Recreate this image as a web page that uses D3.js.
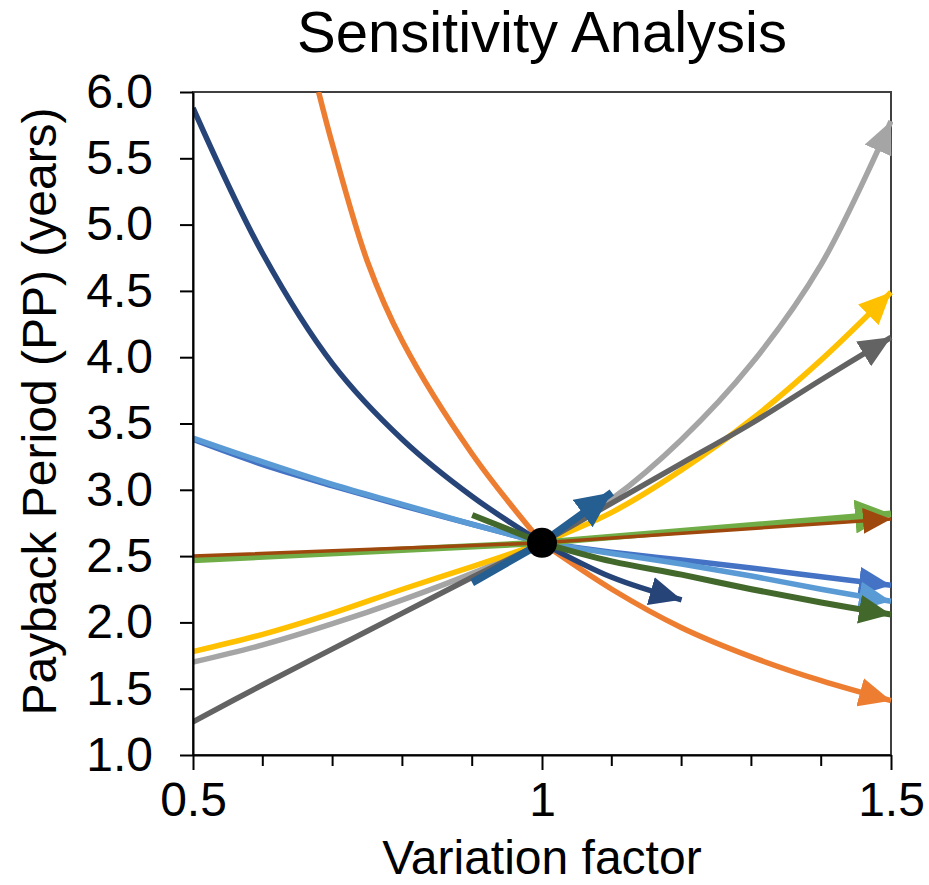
<!DOCTYPE html>
<html>
<head>
<meta charset="utf-8">
<script src="https://cdn.jsdelivr.net/npm/d3@7"></script>
<style>
  body { margin: 0; background: #fff; }
  svg { font-family: "Liberation Sans", Arial, sans-serif; }
</style>
</head>
<body>
<div class="canvas"></div>
<script>
// values
const xFull = [0.5, 0.6, 0.7, 0.8, 0.9, 1.0, 1.1, 1.2, 1.3, 1.4, 1.5];

const blueVals = [3.38, 3.19, 3.03, 2.88, 2.74, 2.6, 2.53, 2.47, 2.41, 2.345, 2.28];
const orangeX = [0.68, 0.7, 0.75, 0.8, 0.9, 1.0, 1.1, 1.2, 1.3, 1.4, 1.5];
const orangeVals = [6.0, 5.6, 4.72, 4.12, 3.27, 2.6, 2.25, 1.96, 1.74, 1.56, 1.41];
const grayVals = [1.7, 1.83, 1.99, 2.17, 2.37, 2.6, 2.93, 3.38, 3.95, 4.7, 5.78];
const yellowVals = [1.78, 1.91, 2.07, 2.25, 2.42, 2.6, 2.83, 3.15, 3.53, 3.98, 4.49];
const lightBlueVals = [3.39, 3.21, 3.04, 2.89, 2.74, 2.6, 2.52, 2.44, 2.35, 2.25, 2.16];
const greenX = [0.5, 1.0, 1.5];
const greenVals = [2.47, 2.6, 2.82];
const navyX = [0.5, 0.6, 0.7, 0.8, 0.9, 1.0, 1.1, 1.2];
const navyVals = [5.88, 4.78, 3.95, 3.38, 2.95, 2.6, 2.34, 2.17];
const brownX = [0.5, 1.0, 1.5];
const brownVals = [2.5, 2.6, 2.78];
const darkGrayVals = [1.25, 1.53, 1.8, 2.07, 2.34, 2.6, 2.9, 3.2, 3.5, 3.83, 4.15];
const midBlueX = [0.9, 1.0, 1.1];
const midBlueVals = [2.3, 2.6, 2.98];
const darkGreenX = [0.9, 1.0, 1.1, 1.2, 1.3, 1.4, 1.5];
const darkGreenVals = [2.81, 2.6, 2.46, 2.36, 2.25, 2.15, 2.06];

const basePoint = { x: 1.0, y: 2.6 };

const yTicks = [1.0, 1.5, 2.0, 2.5, 3.0, 3.5, 4.0, 4.5, 5.0, 5.5, 6.0];
const xTicks = [0.5, 1, 1.5];
const xMinorTicks = [0.6, 0.7, 0.8, 0.9, 1.1, 1.2, 1.3, 1.4];

const series = [
  { id: "blue", color: "#4472C4", width: 5.5, xs: xFull, ys: blueVals },
  { id: "orange", color: "#ED7D31", width: 5.5, xs: orangeX, ys: orangeVals },
  { id: "gray", color: "#A5A5A5", width: 5.5, xs: xFull, ys: grayVals },
  { id: "yellow", color: "#FFC000", width: 5.5, xs: xFull, ys: yellowVals },
  { id: "lightblue", color: "#5B9BD5", width: 5.5, xs: xFull, ys: lightBlueVals },
  { id: "green", color: "#70AD47", width: 6.5, xs: greenX, ys: greenVals },
  { id: "navy", color: "#264478", width: 5.5, xs: navyX, ys: navyVals },
  { id: "brown", color: "#9E480E", width: 3.5, xs: brownX, ys: brownVals },
  { id: "darkgray", color: "#636363", width: 5.5, xs: xFull, ys: darkGrayVals },
  { id: "midblue", color: "#255E91", width: 7.5, xs: midBlueX, ys: midBlueVals },
  { id: "darkgreen", color: "#43682B", width: 6, xs: darkGreenX, ys: darkGreenVals },
];

const dims = { width: 929, height: 885 };
const plot = { left: 193, right: 891, top: 92, bottom: 755 };

const svg = d3
  .select(".canvas")
  .append("svg")
  .attr("width", dims.width)
  .attr("height", dims.height);

const x = d3.scaleLinear().domain([0.5, 1.5]).range([plot.left, plot.right]);
const y = d3.scaleLinear().domain([1, 6]).range([plot.bottom, plot.top]);

const defs = svg.append("defs");

defs
  .append("clipPath")
  .attr("id", "plotClip")
  .append("rect")
  .attr("x", plot.left)
  .attr("y", plot.top)
  .attr("width", plot.right - plot.left + 2)
  .attr("height", plot.bottom - plot.top);

series.forEach((s) => {
  const len = s.width >= 6.5 ? 36 : s.width < 4 ? 28 : 32;
  const wid = s.width >= 6.5 ? 34 : s.width < 4 ? 26 : 29;
  defs
    .append("marker")
    .attr("id", `arrow-${s.id}`)
    .attr("markerUnits", "userSpaceOnUse")
    .attr("viewBox", `0 0 ${len} ${wid}`)
    .attr("markerWidth", len)
    .attr("markerHeight", wid)
    .attr("refX", len)
    .attr("refY", wid / 2)
    .attr("orient", "auto")
    .append("path")
    .attr("d", `M0,0 L${len},${wid / 2} L0,${wid} Z`)
    .attr("fill", s.color);
});

// plot frame
svg
  .append("rect")
  .attr("x", plot.left)
  .attr("y", plot.top)
  .attr("width", plot.right - plot.left)
  .attr("height", plot.bottom - plot.top)
  .attr("fill", "none")
  .attr("stroke", "#404040")
  .attr("stroke-width", 2);

const line = d3
  .line()
  .x((d) => x(d[0]))
  .y((d) => y(d[1]))
  .curve(d3.curveCatmullRom.alpha(0.5));

// each side of the base point is smoothed on its own, joined in one path
const sidePath = (s) => {
  const pts = s.xs.map((v, i) => [v, s.ys[i]]);
  const left = pts.filter((p) => p[0] <= basePoint.x);
  const right = pts.filter((p) => p[0] >= basePoint.x);
  return line(left) + line(right).replace(/^M/, "L");
};

const lines = svg.append("g").attr("clip-path", "url(#plotClip)");

lines
  .selectAll("path")
  .data(series)
  .enter()
  .append("path")
  .attr("d", sidePath)
  .attr("fill", "none")
  .attr("stroke", (s) => s.color)
  .attr("stroke-width", (s) => s.width)
  .attr("marker-end", (s) => `url(#arrow-${s.id})`);

svg
  .append("circle")
  .attr("cx", x(basePoint.x))
  .attr("cy", y(basePoint.y))
  .attr("r", 15)
  .attr("fill", "#000");

// y axis
const yAxis = svg
  .append("g")
  .attr("transform", `translate(${plot.left}, 0)`)
  .call(
    d3
      .axisLeft(y)
      .tickValues(yTicks)
      .tickFormat(d3.format(".1f"))
      .tickSize(13)
      .tickSizeOuter(0)
      .tickPadding(27)
  );

yAxis.select(".domain").attr("stroke", "#000").attr("stroke-width", 2);
yAxis.selectAll(".tick line").attr("stroke", "#000").attr("stroke-width", 2);
yAxis
  .selectAll("text")
  .attr("font-size", 48)
  .attr("font-family", "Liberation Sans, Arial, sans-serif")
  .attr("fill", "#000");

// x axis
const xAxis = svg
  .append("g")
  .attr("transform", `translate(0, ${plot.bottom})`)
  .call(
    d3
      .axisBottom(x)
      .tickValues(xTicks)
      .tickFormat(d3.format("~g"))
      .tickSize(15)
      .tickSizeOuter(0)
      .tickPadding(12)
  );

xAxis.select(".domain").attr("stroke", "#000").attr("stroke-width", 2);
xAxis.selectAll(".tick line").attr("stroke", "#000").attr("stroke-width", 2);
xAxis
  .selectAll("text")
  .attr("font-size", 48)
  .attr("font-family", "Liberation Sans, Arial, sans-serif")
  .attr("fill", "#000");

xAxis
  .selectAll(".minor")
  .data(xMinorTicks)
  .enter()
  .append("line")
  .attr("class", "minor")
  .attr("x1", (d) => x(d))
  .attr("x2", (d) => x(d))
  .attr("y1", 0)
  .attr("y2", 11)
  .attr("stroke", "#000")
  .attr("stroke-width", 2);

// titles
svg
  .append("text")
  .attr("x", (plot.left + plot.right) / 2)
  .attr("y", 52)
  .attr("text-anchor", "middle")
  .attr("font-size", 58)
  .attr("fill", "#000")
  .text("Sensitivity Analysis");

svg
  .append("text")
  .attr("x", (plot.left + plot.right) / 2)
  .attr("y", 874)
  .attr("text-anchor", "middle")
  .attr("font-size", 48)
  .attr("fill", "#000")
  .text("Variation factor");

svg
  .append("text")
  .attr("transform", `translate(56, ${(plot.top + plot.bottom) / 2 - 12}) rotate(-90)`)
  .attr("text-anchor", "middle")
  .attr("font-size", 48)
  .attr("fill", "#000")
  .text("Payback Period (PP) (years)");
</script>
</body>
</html>
